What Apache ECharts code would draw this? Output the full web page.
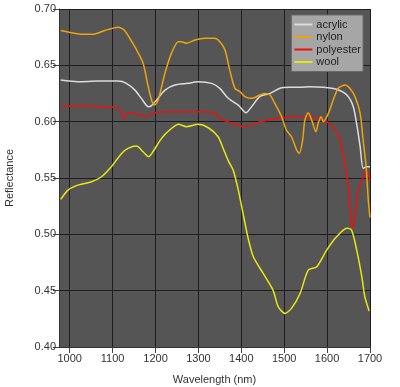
<!DOCTYPE html>
<html><head><meta charset="utf-8">
<script src="https://cdn.jsdelivr.net/npm/echarts@6/dist/echarts.min.js"></script>
<style>html,body{margin:0;padding:0;background:#fff}#c{width:400px;height:387px}</style>
</head><body><div id="c"></div>
<script>
const xTicks = [1000,1100,1200,1300,1400,1500,1600,1700];
const yTicks = [0.40,0.45,0.50,0.55,0.60,0.65,0.70];

const acrylicX = [979,1019,1066,1113,1132,1152,1167,1183,1190,1202,1222,1245,1276,1299,1331,1350,1366,1377,1393,1411,1424,1443,1467,1490,1513,1537,1560,1591,1622,1646,1661,1670,1677,1684,1692,1700];
const acrylicY = [.637,.6355,.636,.636,.634,.628,.6207,.6133,.614,.619,.628,.6325,.634,.6355,.634,.6296,.6222,.6186,.6147,.6079,.6133,.6222,.6251,.6296,.6305,.6305,.631,.6305,.6287,.6236,.6133,.5955,.5778,.5585,.560,.560];

const nylonX = [979,1035,1054,1082,1113,1128,1156,1171,1183,1192,1198,1206,1222,1237,1253,1260,1272,1292,1315,1338,1350,1362,1373,1385,1397,1408,1424,1443,1455,1467,1478,1494,1505,1517,1529,1535,1543,1548,1556,1564,1574,1579,1586,1591,1603,1614,1626,1642,1653,1665,1677,1684,1691,1696,1700];
const nylonY = [.681,.6775,.6775,.681,.6837,.681,.6636,.652,.631,.6177,.6147,.619,.643,.6606,.671,.671,.6695,.6725,.674,.674,.671,.6636,.6458,.6296,.6266,.6222,.6207,.6236,.6251,.6236,.6163,.6044,.5926,.5866,.5748,.5718,.5837,.6014,.6079,.6014,.591,.5985,.6044,.600,.6074,.619,.6296,.6325,.6296,.6222,.6074,.5837,.560,.5304,.515];

const polyesterX = [979,1043,1082,1105,1117,1127,1136,1152,1173,1198,1237,1276,1315,1338,1350,1362,1389,1412,1436,1467,1498,1529,1560,1591,1614,1630,1637,1642,1649,1655,1660,1665,1673,1683,1691,1700];
const polyesterY = [.6138,.614,.6133,.6127,.6104,.603,.6074,.6074,.6044,.6079,.6088,.6088,.6088,.6074,.603,.6008,.597,.5955,.599,.602,.6035,.6044,.604,.6014,.5955,.5837,.572,.560,.545,.5156,.5053,.5186,.5393,.5497,.557,.548];

const woolX = [979,996,1019,1051,1074,1097,1121,1136,1156,1171,1184,1194,1214,1233,1254,1272,1299,1323,1346,1358,1370,1381,1393,1404,1416,1428,1451,1474,1486,1502,1517,1537,1556,1576,1599,1622,1646,1657,1669,1681,1688,1698];
const woolY = [.531,.5393,.5437,.5467,.5511,.560,.5718,.5763,.5783,.5733,.5689,.5733,.5852,.5926,.5976,.5955,.5976,.5946,.5866,.576,.565,.557,.5393,.5186,.4964,.4801,.4653,.4505,.4357,.4298,.4343,.4475,.4682,.4712,.486,.4978,.5053,.5038,.486,.4623,.4445,.432];

const names = ['acrylic','nylon','polyester','wool'];
const colors = ['#dcdcdc','#f0a30a','#ee1111','#e8e810'];
const xs = [acrylicX, nylonX, polyesterX, woolX];
const ys = [acrylicY, nylonY, polyesterY, woolY];

const font = 'Liberation Sans, Arial, sans-serif';
const chart = echarts.init(document.getElementById('c'), null, {renderer:'canvas'});
chart.setOption({
  animation:false,
  backgroundColor:'#fff',
  grid:{left:59,right:30,top:9,bottom:40,containLabel:false,outerBoundsMode:'none',show:true,backgroundColor:'#555555',borderColor:'#555555',borderWidth:0},
  xAxis:{
    type:'value',min:975,max:1700,
    name:'Wavelength (nm)',nameLocation:'middle',nameGap:27,
    nameTextStyle:{color:'#333',fontSize:11,fontFamily:font},
    axisLine:{show:true,onZero:false,lineStyle:{color:'#333',width:1}},
    axisTick:{show:true,length:6,customValues:xTicks,lineStyle:{color:'#444'}},
    axisLabel:{customValues:xTicks,color:'#333',fontSize:11,fontFamily:font,margin:6,formatter:v=>String(v)},
    splitLine:{show:true,lineStyle:{color:'#1e1e1e',width:1}}
  },
  yAxis:{
    type:'value',min:0.40,max:0.70,interval:0.05,
    name:'Reflectance',nameLocation:'middle',nameGap:44,
    nameTextStyle:{color:'#333',fontSize:11,fontFamily:font},
    axisLine:{show:true,lineStyle:{color:'#333',width:1}},
    axisTick:{show:true,length:6,lineStyle:{color:'#444'}},
    axisLabel:{color:'#333',fontSize:11,fontFamily:font,margin:3,formatter:v=>v.toFixed(2)},
    splitLine:{show:true,lineStyle:{color:'#1e1e1e',width:1}}
  },
  legend:{
    show:true,orient:'vertical',right:37,top:15,
    backgroundColor:'#a6a6a6',borderColor:'#6a6a6a',borderWidth:1,
    padding:[4,2,4,3],itemGap:1.5,itemWidth:18,itemHeight:2,
    icon:'rect',
    textStyle:{color:'#222',fontSize:11,fontFamily:font,padding:[0,0,0,-1]},
    data:names
  },
  series: names.map((n,i)=>({
    name:n,type:'line',showSymbol:false,smooth:0.25,
    data:xs[i].map((x,j)=>[x,ys[i][j]]),
    lineStyle:{color:colors[i],width:1.5},itemStyle:{color:colors[i]},
    z: i===1?4:3
  }))
});
</script></body></html>
